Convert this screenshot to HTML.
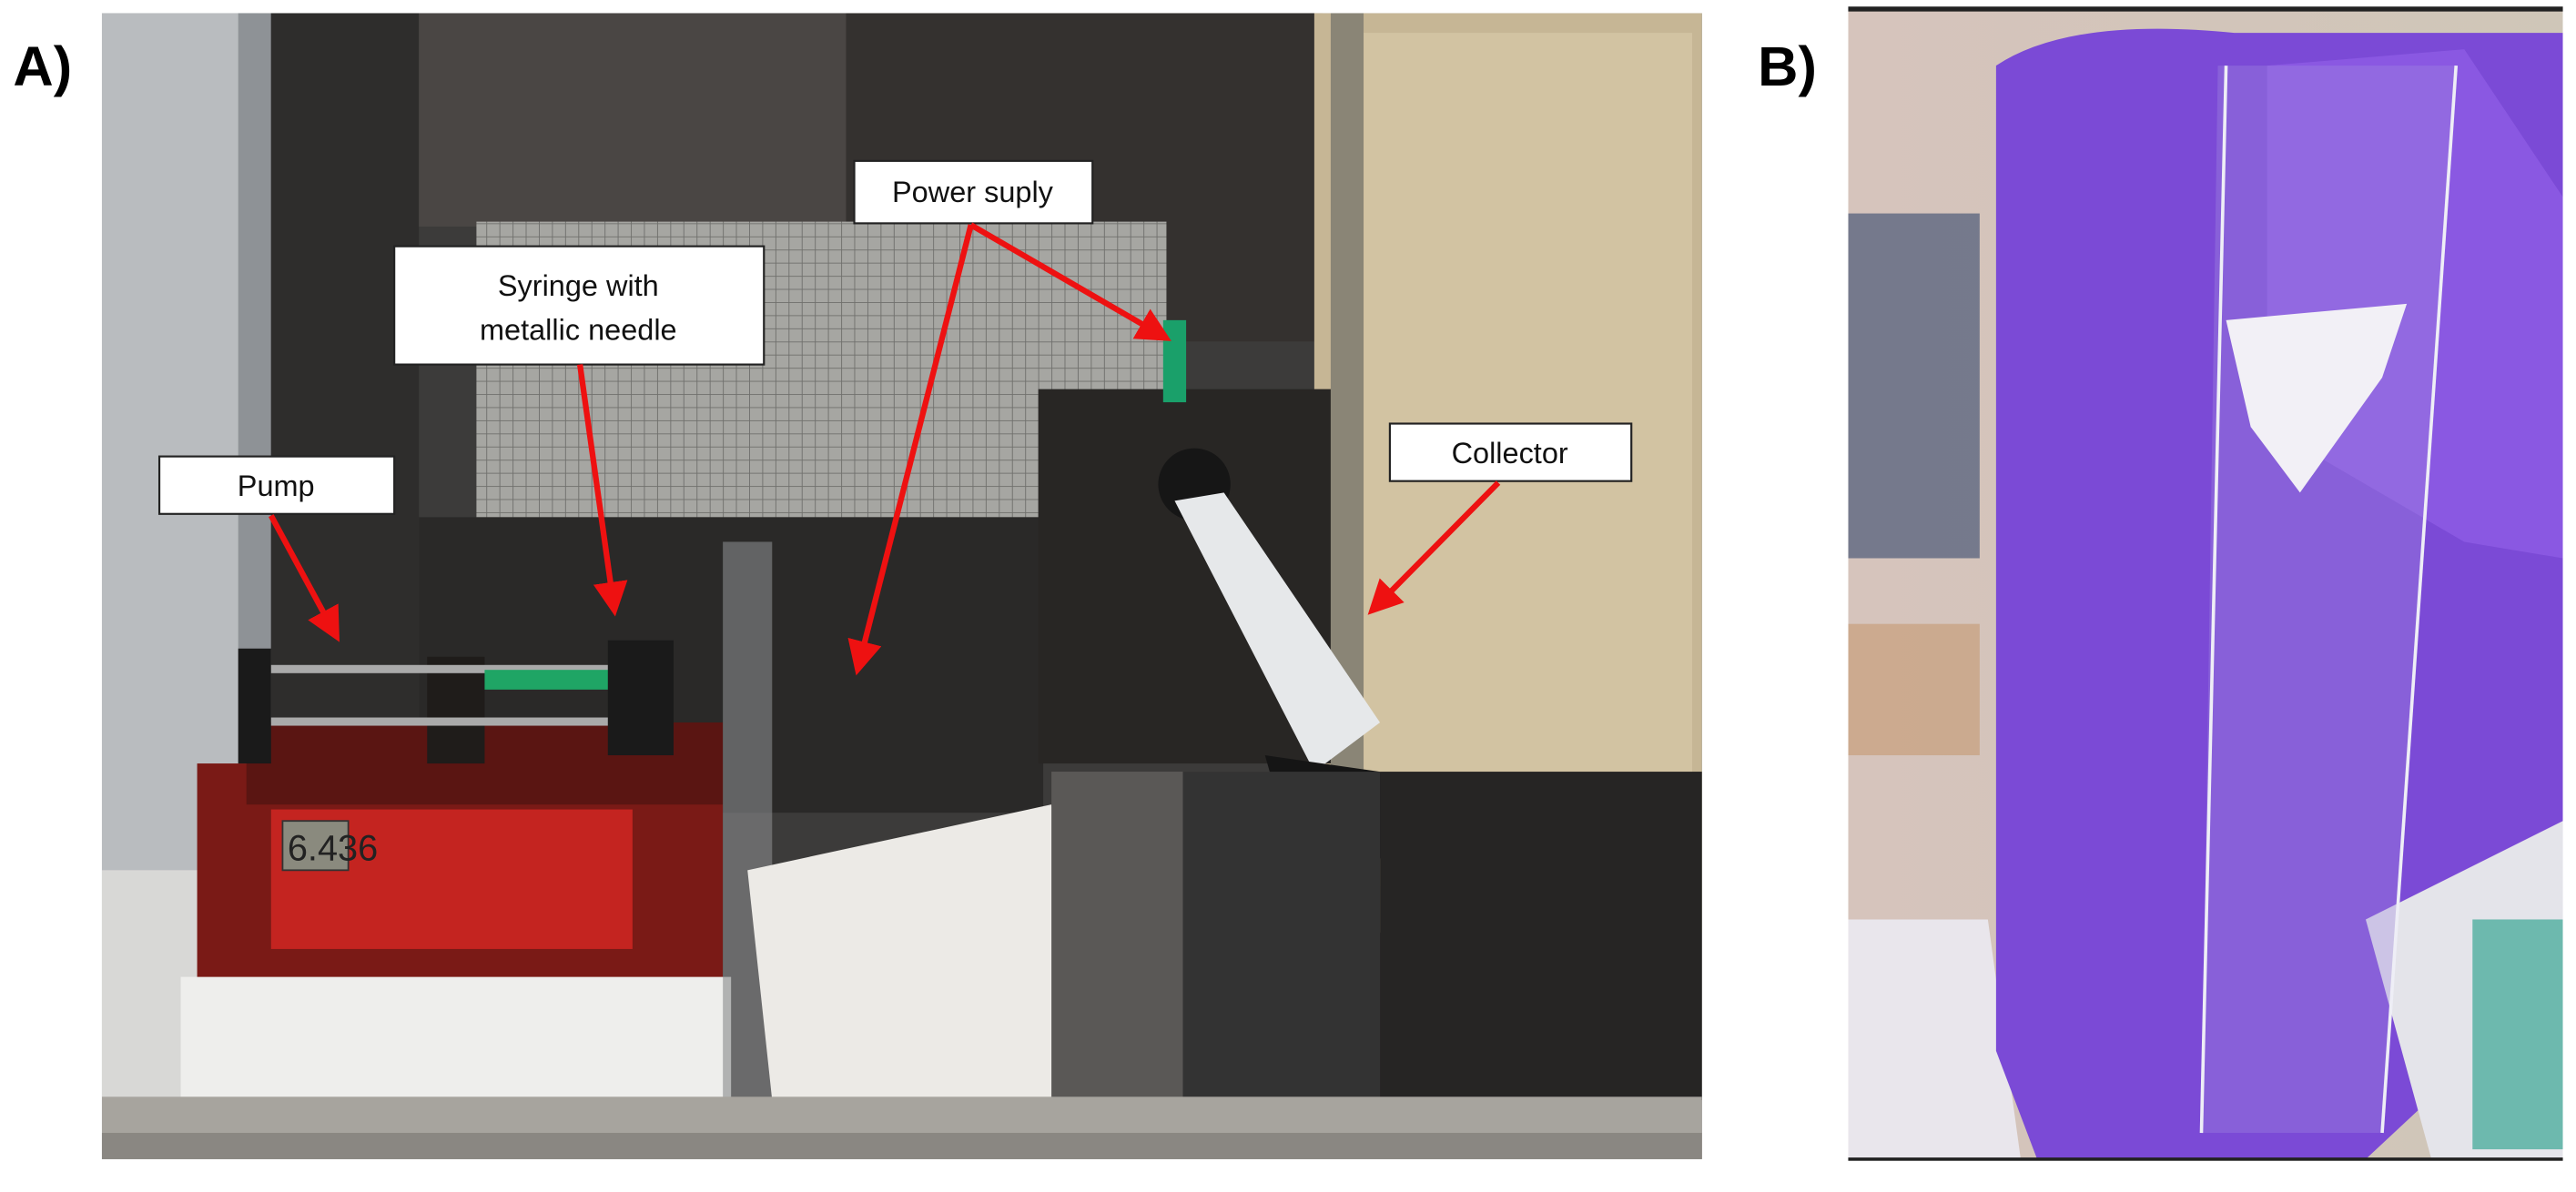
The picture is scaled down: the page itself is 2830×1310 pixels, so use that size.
<!DOCTYPE html>
<html><head><style>
html,body{margin:0;padding:0;background:#fff;width:2830px;height:1310px;overflow:hidden}
svg{display:block}
text{font-family:"Liberation Sans",sans-serif}
</style></head><body>
<svg width="2830" height="1310" viewBox="0 0 1568 726" preserveAspectRatio="none" xmlns="http://www.w3.org/2000/svg">
<defs>
<marker id="ah" markerWidth="6" markerHeight="6" refX="5" refY="3" orient="auto" markerUnits="strokeWidth"><path d="M0,0 L6,3 L0,6 z" fill="#ee1111"/></marker>
<pattern id="mesh" width="8" height="8" patternUnits="userSpaceOnUse"><rect width="8" height="8" fill="#a6a6a2"/><path d="M0 0H8M0 0V8" stroke="#6f6f6c" stroke-width="1"/></pattern>
<linearGradient id="bg" x1="0" x2="1"><stop offset="0" stop-color="#d6c4bc"/><stop offset="1" stop-color="#cfc6b8"/></linearGradient>
</defs>
<rect width="1568" height="726" fill="#fff"/>
<text x="8" y="52" font-size="34" font-weight="bold">A)</text>
<text x="1070" y="52" font-size="34" font-weight="bold">B)</text>

<!-- Photo A -->
<g>
<clipPath id="ca"><rect x="62" y="8" width="974" height="698"/></clipPath>
<g clip-path="url(#ca)">
<rect x="62" y="8" width="974" height="698" fill="#3c3b3a"/>
<rect x="62" y="8" width="95" height="680" fill="#b9bcbf"/>
<rect x="62" y="530" width="60" height="150" fill="#d8d8d6"/>
<rect x="145" y="8" width="20" height="670" fill="#8e9296"/>
<rect x="165" y="8" width="90" height="560" fill="#2e2d2c"/>
<rect x="255" y="8" width="260" height="130" fill="#4a4644"/>
<rect x="515" y="8" width="290" height="200" fill="#34312f"/>
<rect x="290" y="135" width="420" height="180" fill="url(#mesh)"/>
<rect x="800" y="8" width="236" height="560" fill="#c6b695"/>
<rect x="830" y="20" width="200" height="520" fill="#d2c3a2"/>
<rect x="810" y="8" width="20" height="540" fill="#8a8576"/>
<rect x="255" y="315" width="380" height="180" fill="#2a2928"/>
<!-- pump -->
<rect x="120" y="465" width="320" height="135" fill="#7a1a16"/>
<rect x="150" y="440" width="290" height="50" fill="#5a1512"/>
<rect x="165" y="493" width="220" height="85" fill="#c42420"/>
<rect x="172" y="500" width="40" height="30" fill="#8a8a7e" stroke="#333"/>
<text x="175" y="524" font-size="22" fill="#222">6.436</text>
<rect x="145" y="395" width="20" height="70" fill="#1a1a1a"/>
<rect x="260" y="400" width="35" height="65" fill="#1f1c1a"/>
<rect x="165" y="405" width="210" height="5" fill="#aaa"/>
<rect x="165" y="437" width="210" height="5" fill="#aaa"/>
<rect x="295" y="408" width="80" height="12" fill="#1fa565"/>
<rect x="370" y="390" width="40" height="70" fill="#1a1a1a"/>
<rect x="110" y="595" width="335" height="80" fill="#eeeeec"/>
<!-- middle -->
<rect x="440" y="330" width="30" height="340" fill="#888a8c" opacity="0.6"/>
<path d="M455 530 L640 490 L660 670 L470 670 Z" fill="#eceae6"/>
<rect x="640" y="470" width="150" height="200" fill="#5a5856"/>
<!-- collector box -->
<rect x="632" y="237" width="178" height="228" fill="#282624"/>
<circle cx="727" cy="295" r="22" fill="#161616"/>
<path d="M715 305 L745 300 L840 440 L800 470 Z" fill="#e6e8ea"/>
<rect x="708" y="195" width="14" height="50" fill="#1aa06a"/>
<path d="M770 460 L840 470 L860 520 L790 530 Z" fill="#151515"/>
<rect x="840" y="470" width="196" height="200" fill="#262524"/>
<rect x="720" y="470" width="120" height="200" fill="#333"/>
<rect x="62" y="668" width="974" height="38" fill="#a7a49e"/>
<rect x="62" y="690" width="974" height="16" fill="#8a8782"/>
</g>
</g>

<!-- Photo B -->
<g>
<clipPath id="cb"><rect x="1125" y="6" width="435" height="700"/></clipPath>
<g clip-path="url(#cb)">
<rect x="1125" y="6" width="435" height="700" fill="url(#bg)"/>
<rect x="1125" y="130" width="80" height="210" fill="#4b5a78" opacity="0.7"/>
<rect x="1125" y="380" width="80" height="80" fill="#c49a72" opacity="0.6"/>
<path d="M1125 560 L1210 560 L1230 706 L1125 706 Z" fill="#e9e6ec"/>
<path d="M1215 40 Q1260 10 1360 20 L1560 20 L1560 560 L1500 650 L1440 706 L1240 706 L1215 640 Z" fill="#7b4ad6"/>
<path d="M1380 40 L1500 30 L1560 120 L1560 340 L1500 330 L1380 260 Z" fill="#8a58e2"/>
<path d="M1440 560 L1560 500 L1560 706 L1480 706 Z" fill="#e4e4ea"/>
<rect x="1505" y="560" width="55" height="140" fill="#1e9c86" opacity="0.6"/>
<path d="M1350 40 L1495 40 L1450 690 L1340 690 Z" fill="#a08ae0" opacity="0.35"/>
<path d="M1355 195 L1465 185 L1450 230 L1400 300 L1370 260 Z" fill="#f2f0f6"/>
<path d="M1340 690 L1355 40" stroke="#eeeef6" stroke-width="2"/>
<path d="M1450 690 L1495 40" stroke="#eeeef6" stroke-width="2"/>
</g>
<rect x="1125" y="4" width="435" height="3" fill="#222"/>
<rect x="1125" y="705" width="435" height="2" fill="#222"/>
</g>

<!-- labels -->
<g stroke="#222" stroke-width="1.2" fill="#fff">
<rect x="97" y="278" width="143" height="35"/>
<rect x="240" y="150" width="225" height="72"/>
<rect x="520" y="98" width="145" height="38"/>
<rect x="846" y="258" width="147" height="35"/>
</g>
<g font-size="18" text-anchor="middle" fill="#111">
<text x="168" y="302">Pump</text>
<text x="352" y="180">Syringe with</text>
<text x="352" y="207">metallic needle</text>
<text x="592" y="123">Power suply</text>
<text x="919" y="282">Collector</text>
</g>
<g stroke="#ee1111" stroke-width="3.5" fill="none" marker-end="url(#ah)">
<line x1="165" y1="314" x2="205" y2="388"/>
<line x1="353" y1="222" x2="374" y2="372"/>
<line x1="591" y1="137" x2="522" y2="408"/>
<line x1="591" y1="137" x2="710" y2="206"/>
<line x1="912" y1="294" x2="835" y2="372"/>
</g>
</svg>
</body></html>
